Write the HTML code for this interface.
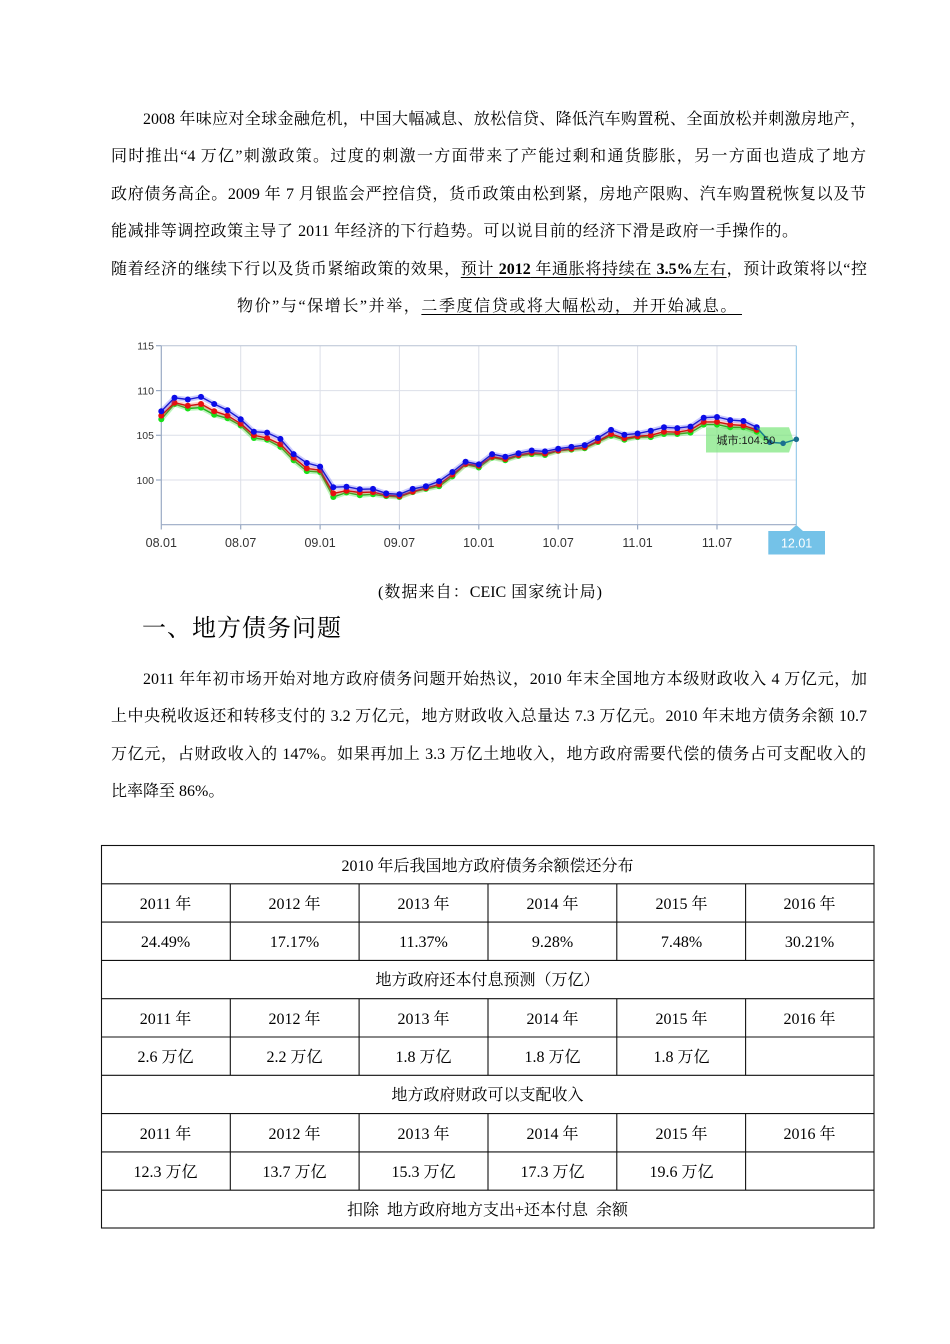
<!DOCTYPE html>
<html><head><meta charset="utf-8">
<style>
html,body{margin:0;padding:0;background:#fff;}
body{width:950px;height:1344px;position:relative;overflow:hidden;}
.l{position:absolute;font-family:"Liberation Serif","Noto Serif CJK SC",serif;font-size:16px;line-height:20px;color:#000;text-align:justify;text-align-last:justify;}
.n{position:absolute;font-family:"Liberation Serif","Noto Serif CJK SC",serif;font-size:16px;line-height:20px;color:#000;white-space:nowrap;}
.u{text-decoration:underline;text-decoration-thickness:1px;text-underline-offset:3px;}
.h{position:absolute;font-family:"Liberation Serif","Noto Serif CJK SC",serif;font-size:24px;line-height:30px;letter-spacing:1px;white-space:nowrap;color:#000;}
.t{position:absolute;font-family:"Liberation Serif","Noto Serif CJK SC",serif;font-size:16px;line-height:38.3px;text-align:center;white-space:nowrap;color:#000;}
svg text{font-family:"Liberation Sans","Noto Sans CJK SC",sans-serif;}
</style></head>
<body>

<!-- Paragraph 1 -->
<div class="l" style="left:143px;top:110px;width:723px;">2008 年味应对全球金融危机，中国大幅减息、放松信贷、降低汽车购置税、全面放松并刺激房地产，</div>
<div class="l" style="left:111px;top:147px;width:755px;">同时推出“4 万亿”刺激政策。过度的刺激一方面带来了产能过剩和通货膨胀，另一方面也造成了地方</div>
<div class="l" style="left:111px;top:184.5px;width:755px;">政府债务高企。2009 年 7 月银监会严控信贷，货币政策由松到紧，房地产限购、汽车购置税恢复以及节</div>
<div class="l" style="left:111px;top:222px;width:687px;">能减排等调控政策主导了 2011 年经济的下行趋势。可以说目前的经济下滑是政府一手操作的。</div>
<div class="l" style="left:111px;top:259.5px;width:756px;">随着经济的继续下行以及货币紧缩政策的效果，<span class="u">预计 <b>2012</b> 年通胀将持续在 <b>3.5%</b>左右</span>，预计政策将以“控</div>
<div class="l" style="left:237px;top:297px;width:505px;">物价”与“保增长”并举，<span class="u">二季度信贷或将大幅松动，并开始减息。&nbsp;</span></div>

<!-- Chart -->
<svg style="position:absolute;left:0;top:0;" width="950" height="570" viewBox="0 0 950 570">
<defs>
<marker id="mb" markerUnits="userSpaceOnUse" markerWidth="8" markerHeight="8" refX="4" refY="4"><circle cx="4" cy="4" r="3" fill="#0b0be8"/></marker>
<marker id="mr" markerUnits="userSpaceOnUse" markerWidth="8" markerHeight="8" refX="4" refY="4"><circle cx="4" cy="4" r="3" fill="#e81010"/></marker>
<marker id="mg" markerUnits="userSpaceOnUse" markerWidth="8" markerHeight="8" refX="4" refY="4"><circle cx="4" cy="4" r="3" fill="#18e018"/></marker>
<marker id="mt" markerUnits="userSpaceOnUse" markerWidth="8" markerHeight="8" refX="4" refY="4"><circle cx="4" cy="4" r="2.8" fill="#1a6f90"/></marker>
</defs>
<!-- grid -->
<g stroke="#dcdfe8" stroke-width="1" fill="none">
<line x1="240.7" y1="345.7" x2="240.7" y2="524.7"/>
<line x1="320.1" y1="345.7" x2="320.1" y2="524.7"/>
<line x1="399.4" y1="345.7" x2="399.4" y2="524.7"/>
<line x1="478.8" y1="345.7" x2="478.8" y2="524.7"/>
<line x1="558.2" y1="345.7" x2="558.2" y2="524.7"/>
<line x1="637.6" y1="345.7" x2="637.6" y2="524.7"/>
<line x1="717.0" y1="345.7" x2="717.0" y2="524.7"/>
<line x1="161.3" y1="390.6" x2="796.3" y2="390.6"/>
<line x1="161.3" y1="435.3" x2="796.3" y2="435.3"/>
<line x1="161.3" y1="480" x2="796.3" y2="480"/>
</g>
<line x1="161.3" y1="345.7" x2="796.3" y2="345.7" stroke="#b7c2d4" stroke-width="1"/>
<line x1="796.3" y1="345.7" x2="796.3" y2="525" stroke="#86c1e6" stroke-width="1"/>
<!-- axes -->
<g stroke="#9aaac4" stroke-width="1.2">
<line x1="161.3" y1="345.7" x2="161.3" y2="524.7"/>
<line x1="161.3" y1="524.7" x2="796.3" y2="524.7"/>
<line x1="156" y1="345.7" x2="161.3" y2="345.7"/>
<line x1="156" y1="390.6" x2="161.3" y2="390.6"/>
<line x1="156" y1="435.3" x2="161.3" y2="435.3"/>
<line x1="156" y1="480" x2="161.3" y2="480"/>
<line x1="161.3" y1="524.7" x2="161.3" y2="529.5"/>
<line x1="240.7" y1="524.7" x2="240.7" y2="529.5"/>
<line x1="320.1" y1="524.7" x2="320.1" y2="529.5"/>
<line x1="399.4" y1="524.7" x2="399.4" y2="529.5"/>
<line x1="478.8" y1="524.7" x2="478.8" y2="529.5"/>
<line x1="558.2" y1="524.7" x2="558.2" y2="529.5"/>
<line x1="637.6" y1="524.7" x2="637.6" y2="529.5"/>
<line x1="717.0" y1="524.7" x2="717.0" y2="529.5"/>
</g>
<!-- y labels -->
<g font-size="10.5" fill="#333" text-anchor="end">
<text x="154" y="349.5">115</text>
<text x="154" y="394.4">110</text>
<text x="154" y="439.1">105</text>
<text x="154" y="483.8">100</text>
</g>
<!-- x labels -->
<g font-size="12.5" fill="#333" text-anchor="middle">
<text x="161.3" y="547">08.01</text>
<text x="240.7" y="547">08.07</text>
<text x="320.1" y="547">09.01</text>
<text x="399.4" y="547">09.07</text>
<text x="478.8" y="547">10.01</text>
<text x="558.2" y="547">10.07</text>
<text x="637.6" y="547">11.01</text>
<text x="717.0" y="547">11.07</text>
</g>
<!-- tooltip box (under the tail) -->
<polygon points="706,427.3 789,427.3 793.5,440 789,452.5 706,452.5" fill="#7ae67a" fill-opacity="0.7"/>
<!-- green -->
<polyline fill="none" stroke="#20e020" stroke-opacity="0.3" stroke-width="5" stroke-linejoin="round" points="161.3,419.2 174.5,404.0 187.8,408.5 201.0,407.6 214.2,414.7 227.5,418.3 240.7,425.5 253.9,438.0 267.1,439.8 280.4,446.9 293.6,460.3 306.8,471.1 320.1,472.0 333.3,497.0 346.5,492.5 359.8,495.2 373.0,494.3 386.2,496.1 399.4,497.0 412.7,492.1 425.9,488.9 439.1,486.3 452.4,476.4 465.6,464.4 478.8,467.5 492.1,457.6 505.3,460.3 518.5,455.9 531.7,454.1 545.0,455.0 558.2,450.9 571.4,449.6 584.7,448.3 597.9,442.0 611.1,435.7 624.4,439.8 637.6,437.1 650.8,437.1 664.0,434.0 677.3,434.0 690.5,432.6 703.7,424.6 717.0,424.6 730.2,427.3 743.4,427.3 756.7,431.7 769.9,442.3"/>
<polyline fill="none" stroke="#1cb41c" stroke-width="1.4" stroke-linejoin="round" marker-start="url(#mg)" marker-mid="url(#mg)" marker-end="url(#mg)" points="161.3,419.2 174.5,404.0 187.8,408.5 201.0,407.6 214.2,414.7 227.5,418.3 240.7,425.5 253.9,438.0 267.1,439.8 280.4,446.9 293.6,460.3 306.8,471.1 320.1,472.0 333.3,497.0 346.5,492.5 359.8,495.2 373.0,494.3 386.2,496.1 399.4,497.0 412.7,492.1 425.9,488.9 439.1,486.3 452.4,476.4 465.6,464.4 478.8,467.5 492.1,457.6 505.3,460.3 518.5,455.9 531.7,454.1 545.0,455.0 558.2,450.9 571.4,449.6 584.7,448.3 597.9,442.0 611.1,435.7 624.4,439.8 637.6,437.1 650.8,437.1 664.0,434.0 677.3,434.0 690.5,432.6 703.7,424.6 717.0,424.6 730.2,427.3 743.4,427.3 756.7,431.7"/>
<!-- red -->
<polyline fill="none" stroke="#ff4040" stroke-opacity="0.25" stroke-width="5" stroke-linejoin="round" points="161.3,415.6 174.5,402.7 187.8,405.8 201.0,404.0 214.2,411.2 227.5,415.6 240.7,423.7 253.9,435.3 267.1,438.0 280.4,444.2 293.6,457.6 306.8,468.4 320.1,470.2 333.3,493.4 346.5,490.7 359.8,492.5 373.0,492.1 386.2,495.2 399.4,496.1 412.7,491.6 425.9,488.0 439.1,484.5 452.4,474.6 465.6,463.9 478.8,465.7 492.1,456.8 505.3,459.0 518.5,455.0 531.7,452.7 545.0,453.6 558.2,450.5 571.4,448.7 584.7,447.4 597.9,441.1 611.1,434.0 624.4,438.4 637.6,436.2 650.8,435.3 664.0,431.7 677.3,432.2 690.5,429.9 703.7,421.9 717.0,421.9 730.2,424.6 743.4,425.5 756.7,429.9"/>
<polyline fill="none" stroke="#d01010" stroke-width="1.4" stroke-linejoin="round" marker-start="url(#mr)" marker-mid="url(#mr)" marker-end="url(#mr)" points="161.3,415.6 174.5,402.7 187.8,405.8 201.0,404.0 214.2,411.2 227.5,415.6 240.7,423.7 253.9,435.3 267.1,438.0 280.4,444.2 293.6,457.6 306.8,468.4 320.1,470.2 333.3,493.4 346.5,490.7 359.8,492.5 373.0,492.1 386.2,495.2 399.4,496.1 412.7,491.6 425.9,488.0 439.1,484.5 452.4,474.6 465.6,463.9 478.8,465.7 492.1,456.8 505.3,459.0 518.5,455.0 531.7,452.7 545.0,453.6 558.2,450.5 571.4,448.7 584.7,447.4 597.9,441.1 611.1,434.0 624.4,438.4 637.6,436.2 650.8,435.3 664.0,431.7 677.3,432.2 690.5,429.9 703.7,421.9 717.0,421.9 730.2,424.6 743.4,425.5 756.7,429.9"/>
<!-- blue -->
<polyline fill="none" stroke="#5050ff" stroke-opacity="0.3" stroke-width="5" stroke-linejoin="round" points="161.3,411.2 174.5,397.8 187.8,399.5 201.0,396.9 214.2,404.0 227.5,410.3 240.7,419.2 253.9,431.7 267.1,432.6 280.4,438.9 293.6,454.1 306.8,463.0 320.1,466.6 333.3,487.2 346.5,486.7 359.8,489.3 373.0,488.9 386.2,493.4 399.4,494.3 412.7,488.9 425.9,486.3 439.1,481.3 452.4,472.0 465.6,461.7 478.8,464.4 492.1,454.1 505.3,456.8 518.5,453.2 531.7,450.5 545.0,451.4 558.2,448.7 571.4,446.9 584.7,445.1 597.9,438.0 611.1,429.9 624.4,434.7 637.6,433.5 650.8,430.8 664.0,427.3 677.3,428.1 690.5,426.6 703.7,417.7 717.0,417.0 730.2,420.1 743.4,421.0 756.7,427.3"/>
<polyline fill="none" stroke="#1a1ad0" stroke-width="1.4" stroke-linejoin="round" marker-start="url(#mb)" marker-mid="url(#mb)" marker-end="url(#mb)" points="161.3,411.2 174.5,397.8 187.8,399.5 201.0,396.9 214.2,404.0 227.5,410.3 240.7,419.2 253.9,431.7 267.1,432.6 280.4,438.9 293.6,454.1 306.8,463.0 320.1,466.6 333.3,487.2 346.5,486.7 359.8,489.3 373.0,488.9 386.2,493.4 399.4,494.3 412.7,488.9 425.9,486.3 439.1,481.3 452.4,472.0 465.6,461.7 478.8,464.4 492.1,454.1 505.3,456.8 518.5,453.2 531.7,450.5 545.0,451.4 558.2,448.7 571.4,446.9 584.7,445.1 597.9,438.0 611.1,429.9 624.4,434.7 637.6,433.5 650.8,430.8 664.0,427.3 677.3,428.1 690.5,426.6 703.7,417.7 717.0,417.0 730.2,420.1 743.4,421.0 756.7,427.3"/>
<!-- teal tail -->
<polyline fill="none" stroke="#1a7f8f" stroke-width="1.5" stroke-linejoin="round" marker-mid="url(#mt)" marker-end="url(#mt)" points="756.7,427.3 769.9,442.3 783.1,443.3 796.3,439.3"/>
<text x="716.5" y="444" font-size="11" fill="#1a1a1a">城市:104.50</text>
<!-- 12.01 label box -->
<polygon points="768.3,531 789.5,531 796.3,525 803,531 825,531 825,554.5 768.3,554.5" fill="#74c2e8"/>
<text x="796.6" y="547.5" font-size="12.5" fill="#ffffff" text-anchor="middle">12.01</text>
</svg>

<!-- caption & heading -->
<div class="l" style="left:378px;top:582.5px;width:224px;">(数据来自：CEIC 国家统计局)</div>
<div class="h" style="left:142px;top:614px;">一、地方债务问题</div>

<!-- Paragraph 2 -->
<div class="l" style="left:143px;top:670px;width:724px;">2011 年年初市场开始对地方政府债务问题开始热议，2010 年末全国地方本级财政收入 4 万亿元，加</div>
<div class="l" style="left:111px;top:707.3px;width:756px;">上中央税收返还和转移支付的 3.2 万亿元，地方财政收入总量达 7.3 万亿元。2010 年末地方债务余额 10.7</div>
<div class="l" style="left:111px;top:744.5px;width:755px;">万亿元，占财政收入的 147%。如果再加上 3.3 万亿土地收入，地方政府需要代偿的债务占可支配收入的</div>
<div class="n" style="left:111px;top:781.5px;">比率降至 86%。</div>

<!-- Table grid -->
<svg style="position:absolute;left:0;top:0;" width="950" height="1344" viewBox="0 0 950 1344">
<g stroke="#111" stroke-width="1.1" fill="none">
<rect x="101.5" y="845.5" width="772.5" height="382.5"/>
<line x1="101.5" y1="883.8" x2="874" y2="883.8"/>
<line x1="101.5" y1="922.1" x2="874" y2="922.1"/>
<line x1="101.5" y1="960.4" x2="874" y2="960.4"/>
<line x1="101.5" y1="998.7" x2="874" y2="998.7"/>
<line x1="101.5" y1="1037" x2="874" y2="1037"/>
<line x1="101.5" y1="1075.3" x2="874" y2="1075.3"/>
<line x1="101.5" y1="1113.6" x2="874" y2="1113.6"/>
<line x1="101.5" y1="1151.9" x2="874" y2="1151.9"/>
<line x1="101.5" y1="1190.2" x2="874" y2="1190.2"/>
<line x1="230.3" y1="883.8" x2="230.3" y2="960.4"/>
<line x1="359.1" y1="883.8" x2="359.1" y2="960.4"/>
<line x1="488" y1="883.8" x2="488" y2="960.4"/>
<line x1="616.8" y1="883.8" x2="616.8" y2="960.4"/>
<line x1="745.6" y1="883.8" x2="745.6" y2="960.4"/>
<line x1="230.3" y1="998.7" x2="230.3" y2="1075.3"/>
<line x1="359.1" y1="998.7" x2="359.1" y2="1075.3"/>
<line x1="488" y1="998.7" x2="488" y2="1075.3"/>
<line x1="616.8" y1="998.7" x2="616.8" y2="1075.3"/>
<line x1="745.6" y1="998.7" x2="745.6" y2="1075.3"/>
<line x1="230.3" y1="1113.6" x2="230.3" y2="1190.2"/>
<line x1="359.1" y1="1113.6" x2="359.1" y2="1190.2"/>
<line x1="488" y1="1113.6" x2="488" y2="1190.2"/>
<line x1="616.8" y1="1113.6" x2="616.8" y2="1190.2"/>
<line x1="745.6" y1="1113.6" x2="745.6" y2="1190.2"/>
</g>
</svg>

<!-- Table text -->
<div class="t" style="left:101px;top:847.5px;width:773px;">2010 年后我国地方政府债务余额偿还分布</div>

<div class="t" style="left:101px;top:885.8px;width:129px;">2011 年</div>
<div class="t" style="left:230px;top:885.8px;width:129px;">2012 年</div>
<div class="t" style="left:359px;top:885.8px;width:129px;">2013 年</div>
<div class="t" style="left:488px;top:885.8px;width:129px;">2014 年</div>
<div class="t" style="left:617px;top:885.8px;width:129px;">2015 年</div>
<div class="t" style="left:745px;top:885.8px;width:129px;">2016 年</div>

<div class="t" style="left:101px;top:924.1px;width:129px;">24.49%</div>
<div class="t" style="left:230px;top:924.1px;width:129px;">17.17%</div>
<div class="t" style="left:359px;top:924.1px;width:129px;">11.37%</div>
<div class="t" style="left:488px;top:924.1px;width:129px;">9.28%</div>
<div class="t" style="left:617px;top:924.1px;width:129px;">7.48%</div>
<div class="t" style="left:745px;top:924.1px;width:129px;">30.21%</div>

<div class="t" style="left:101px;top:962.4px;width:773px;">地方政府还本付息预测（万亿）</div>

<div class="t" style="left:101px;top:1000.7px;width:129px;">2011 年</div>
<div class="t" style="left:230px;top:1000.7px;width:129px;">2012 年</div>
<div class="t" style="left:359px;top:1000.7px;width:129px;">2013 年</div>
<div class="t" style="left:488px;top:1000.7px;width:129px;">2014 年</div>
<div class="t" style="left:617px;top:1000.7px;width:129px;">2015 年</div>
<div class="t" style="left:745px;top:1000.7px;width:129px;">2016 年</div>

<div class="t" style="left:101px;top:1039px;width:129px;">2.6 万亿</div>
<div class="t" style="left:230px;top:1039px;width:129px;">2.2 万亿</div>
<div class="t" style="left:359px;top:1039px;width:129px;">1.8 万亿</div>
<div class="t" style="left:488px;top:1039px;width:129px;">1.8 万亿</div>
<div class="t" style="left:617px;top:1039px;width:129px;">1.8 万亿</div>

<div class="t" style="left:101px;top:1077.3px;width:773px;">地方政府财政可以支配收入</div>

<div class="t" style="left:101px;top:1115.6px;width:129px;">2011 年</div>
<div class="t" style="left:230px;top:1115.6px;width:129px;">2012 年</div>
<div class="t" style="left:359px;top:1115.6px;width:129px;">2013 年</div>
<div class="t" style="left:488px;top:1115.6px;width:129px;">2014 年</div>
<div class="t" style="left:617px;top:1115.6px;width:129px;">2015 年</div>
<div class="t" style="left:745px;top:1115.6px;width:129px;">2016 年</div>

<div class="t" style="left:101px;top:1153.9px;width:129px;">12.3 万亿</div>
<div class="t" style="left:230px;top:1153.9px;width:129px;">13.7 万亿</div>
<div class="t" style="left:359px;top:1153.9px;width:129px;">15.3 万亿</div>
<div class="t" style="left:488px;top:1153.9px;width:129px;">17.3 万亿</div>
<div class="t" style="left:617px;top:1153.9px;width:129px;">19.6 万亿</div>

<div class="t" style="left:101px;top:1192.2px;width:773px;">扣除&nbsp;&nbsp;地方政府地方支出+还本付息&nbsp;&nbsp;余额</div>

</body></html>
